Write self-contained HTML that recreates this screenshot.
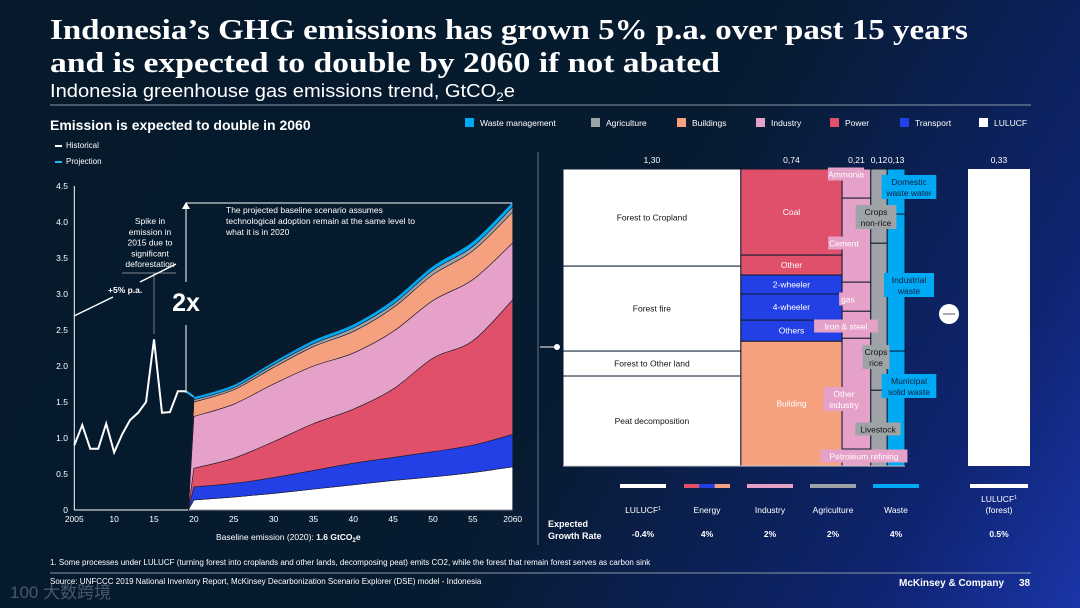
<!DOCTYPE html>
<html><head><meta charset="utf-8">
<style>
html,body{margin:0;padding:0;}
body{width:1080px;height:608px;overflow:hidden;background:linear-gradient(120deg,#061a2b 0%,#071b30 55%,#0f2470 85%,#1a35a8 100%);font-family:"Liberation Sans",sans-serif;}
svg{position:absolute;left:0;top:0;}
text{font-family:"Liberation Sans","Noto Sans CJK SC",sans-serif;}
</style></head>
<body>
<svg id="s" width="1080" height="608" viewBox="0 0 1080 608" xmlns="http://www.w3.org/2000/svg">
<g>
<text x="50" y="39" fill="#fff" font-weight="bold" font-size="29" textLength="918" lengthAdjust="spacingAndGlyphs" style="font-family:'Liberation Serif',serif">Indonesia’s GHG emissions has grown 5% p.a. over past 15 years</text>
<text x="50" y="72" fill="#fff" font-weight="bold" font-size="29" textLength="670" lengthAdjust="spacingAndGlyphs" style="font-family:'Liberation Serif',serif">and is expected to double by 2060 if not abated</text>
<text x="50" y="97" fill="#fff" font-size="18" textLength="465" lengthAdjust="spacingAndGlyphs">Indonesia greenhouse gas emissions trend, GtCO<tspan font-size="12" dy="4">2</tspan><tspan dy="-4">e</tspan></text>
<line x1="50" y1="105" x2="1031" y2="105" stroke="#8a97a8" stroke-width="1"/>
<text x="50" y="130" fill="#fff" font-weight="bold" font-size="14">Emission is expected to double in 2060</text>
</g>
<g id="toplegend"></g>
<g>
<rect x="55" y="145" width="7" height="2" fill="#fff"/><text x="66" y="148" fill="#fff" font-size="8">Historical</text>
<rect x="55" y="161" width="7" height="2" fill="#29b6f6"/><text x="66" y="164" fill="#fff" font-size="8">Projection</text>
</g>
<g id="left"></g>
<line x1="538" y1="152" x2="538" y2="545" stroke="#6a7688" stroke-width="1"/>
<g id="right"></g>
<g>
<text x="50" y="565" fill="#fff" font-size="8">1.   Some processes under LULUCF (turning forest into croplands and other lands, decomposing peat) emits CO2, while the forest that remain forest serves as carbon sink</text>
<line x1="50" y1="573" x2="1031" y2="573" stroke="#8a97a8" stroke-width="1"/>
<text x="50" y="584" fill="#fff" font-size="8">Source: UNFCCC 2019 National Inventory Report, McKinsey Decarbonization Scenario Explorer (DSE) model - Indonesia</text>
<text x="899" y="586" fill="#fff" font-size="10" font-weight="bold">McKinsey &amp; Company</text>
<text x="1019" y="586" fill="#fff" font-size="10" font-weight="bold">38</text>
<text x="10" y="598" fill="#9aa3b0" fill-opacity="0.45" font-size="17">100 大数跨境</text>
</g>
</svg>
<script>
// ---------- data: left chart ----------
const histYears=[2005,2006,2007,2008,2009,2010,2011,2012,2013,2014,2015,2016,2017,2018,2019];
const histValues=[0.9,1.18,0.85,0.85,1.2,0.8,1.05,1.25,1.35,1.5,2.37,1.35,1.36,1.65,1.65];
const projYears=[2020,2025,2030,2035,2040,2045,2050,2055,2060];
const seriesNames=["LULUCF","Transport","Power","Industry","Buildings","Agriculture","Waste management"];
const lulucfVals=[0.14,0.18,0.23,0.29,0.35,0.41,0.46,0.52,0.60];
const transportVals=[0.18,0.19,0.22,0.26,0.30,0.32,0.35,0.38,0.45];
const powerVals=[0.26,0.35,0.50,0.65,0.75,0.95,1.30,1.45,1.87];
const industryVals=[0.72,0.75,0.80,0.80,0.78,0.80,0.80,0.85,0.79];
const buildingsVals=[0.20,0.20,0.23,0.27,0.30,0.33,0.36,0.40,0.43];
const agricultureVals=[0.03,0.03,0.04,0.04,0.05,0.05,0.06,0.06,0.07];
const wasteVals=[0.04,0.04,0.04,0.05,0.05,0.06,0.06,0.07,0.07];
const yTicks=[0,0.5,1.0,1.5,2.0,2.5,3.0,3.5,4.0,4.5];
const yTickLabels=["0","0.5","1.0","1.5","2.0","2.5","3.0","3.5","4.0","4.5"];
const xTicks=[2005,2010,2015,2020,2025,2030,2035,2040,2045,2050,2055,2060];
const xTickLabels=["2005","10","15","20","25","30","35","40","45","50","55","2060"];
// ---------- data: marimekko ----------
const colNames=["LULUCF","Energy","Industry","Agriculture","Waste"];
const colTotals=[1.30,0.74,0.21,0.12,0.13];
const colLabels=["1,30","0,74","0,21","0,12","0,13"];
const lulucfSegs=[0.327,0.286,0.084,0.303];
const lulucfSegNames=["Forest to Cropland","Forest fire","Forest to Other land","Peat decomposition"];
const energySegs=[0.29,0.067,0.064,0.088,0.071,0.42];
const energySegNames=["Coal","Other","2-wheeler","4-wheeler","Others","Building"];
const industrySegs=[0.098,0.283,0.098,0.091,0.373,0.057];
const agriSegs=[0.25,0.495,0.255];
const wasteSegs=[0.152,0.461,0.387];
const forestValue=0.33;
const forestLabel="0,33";
const growthRates=["-0.4%","4%","2%","2%","4%"];
const forestGrowth="0.5%";

const NS="http://www.w3.org/2000/svg";
function mk(tag,attrs,parent,txt){const e=document.createElementNS(NS,tag);for(const k in attrs)e.setAttribute(k,attrs[k]);if(txt!==undefined)e.textContent=txt;parent.appendChild(e);return e;}
const C={waste:"#00a9f4",agri:"#9ea3a8",build:"#f5a07e",ind:"#e6a1c9",power:"#e0506b",trans:"#2340e6",lul:"#ffffff"};

// top legend
const tl=document.getElementById('toplegend');
const legItems=[["Waste management",C.waste,465],["Agriculture",C.agri,591],["Buildings",C.build,677],["Industry",C.ind,756],["Power",C.power,830],["Transport",C.trans,900],["LULUCF",C.lul,979]];
legItems.forEach(it=>{
 const g=mk('g',{},tl);
 
 
 mk('rect',{x:it[2],y:118,width:9,height:9,fill:it[1]},g);
 mk('text',{x:it[2]+15,y:126,fill:'#fff','font-size':8.5},g,it[0]);
});

// ---------- left chart ----------
const L=document.getElementById('left');
const x0=74.3,x1=512.7,yb=510,yt=186;
const xs=y=>x0+(y-2005)*(x1-x0)/55;
const ys=v=>yb-v*(yb-yt)/4.5;
mk('line',{x1:x0,y1:yt,x2:x0,y2:yb,stroke:'#fff','stroke-width':1},L);
mk('line',{x1:x0,y1:yb,x2:x1,y2:yb,stroke:'#fff','stroke-width':1},L);
yTicks.forEach((t,i)=>{const e=mk('text',{x:68,y:ys(t)+3,fill:'#fff','font-size':8.5,'text-anchor':'end'},L,yTickLabels[i]);});
xTicks.forEach((t,i)=>{const e=mk('text',{x:xs(t),y:522,fill:'#fff','font-size':8.5,'text-anchor':'middle'},L,xTickLabels[i]);});
// smooth path through points (Catmull-Rom), continuing existing path
function smoothSeg(pts){
 let d='';
 for(let i=0;i<pts.length-1;i++){
  const p0=pts[Math.max(i-1,0)],p1=pts[i],p2=pts[i+1],p3=pts[Math.min(i+2,pts.length-1)];
  const c1=[p1[0]+(p2[0]-p0[0])/6,p1[1]+(p2[1]-p0[1])/6];
  const c2=[p2[0]-(p3[0]-p1[0])/6,p2[1]-(p3[1]-p1[1])/6];
  d+=' C'+c1[0]+','+c1[1]+' '+c2[0]+','+c2[1]+' '+p2[0]+','+p2[1];
 }
 return d;
}
const stackSeries=[lulucfVals,transportVals,powerVals,industryVals,buildingsVals,agricultureVals,wasteVals];
const stackColors=[C.lul,C.trans,C.power,C.ind,C.build,C.agri,C.waste];
const startYear=2019.3;
let lower=projYears.map(()=>0);
stackSeries.forEach((ser,si)=>{
 const upper=ser.map((v,i)=>lower[i]+v);
 const up=projYears.map((y,i)=>[xs(y),ys(upper[i])]);
 const lo=projYears.map((y,i)=>[xs(y),ys(lower[i])]).reverse();
 let d='M'+xs(startYear)+','+ys(0)+' L'+up[0][0]+','+up[0][1]+smoothSeg(up)+' L'+lo[0][0]+','+lo[0][1]+smoothSeg(lo)+' Z';
 const p=mk('path',{d:d,fill:stackColors[si],stroke:'#1a1a2a','stroke-width':0.6},L);
 
 
 lower=upper;
});
let hd='';histYears.forEach((y,i)=>{hd+=(i?' L':'M')+xs(y)+','+ys(histValues[i]);});
const hl=mk('path',{d:hd,fill:'none',stroke:'#fff','stroke-width':2},L);


const totals=projYears.map((y,i)=>stackSeries.reduce((a,s)=>a+s[i],0));
const pl=mk('path',{d:'M'+xs(2019)+','+ys(histValues[histValues.length-1])+' L'+xs(projYears[0])+','+ys(totals[0]),fill:'none',stroke:'#29b6f6','stroke-width':2},L);


const an=mk('g',{},L);


["Spike in","emission in","2015 due to","significant","deforestation"].forEach((t,i)=>mk('text',{x:150,y:224+i*10.8,fill:'#fff','font-size':8.5,'text-anchor':'middle'},an,t));
mk('line',{x1:122,y1:273,x2:176,y2:273,stroke:'#aaa','stroke-width':0.7},an);
mk('line',{x1:154,y1:273,x2:154,y2:334,stroke:'#aaa','stroke-width':0.7},an);
mk('line',{x1:74,y1:316,x2:113,y2:297,stroke:'#fff','stroke-width':1.5},an);
mk('line',{x1:140,y1:282,x2:176,y2:264,stroke:'#fff','stroke-width':1.5},an);
mk('text',{x:108,y:293,fill:'#fff','font-size':8.5,'font-weight':'bold'},an,'+5% p.a.');
mk('line',{x1:186,y1:393,x2:186,y2:325,stroke:'#fff','stroke-width':1},an);
mk('line',{x1:186,y1:282,x2:186,y2:205,stroke:'#fff','stroke-width':1},an);
mk('path',{d:'M182,209 L186,202 L190,209 Z',fill:'#fff'},an);
mk('line',{x1:186,y1:203,x2:512,y2:203,stroke:'#fff','stroke-width':1},an);
mk('text',{x:186,y:311,fill:'#fff','font-size':25,'font-weight':'bold','text-anchor':'middle'},an,'2x');
["The projected baseline scenario assumes","technological adoption remain at the same level to","what it is in 2020"].forEach((t,i)=>mk('text',{x:226,y:213+i*11,fill:'#fff','font-size':8.5},an,t));
const bl=mk('text',{x:216,y:540,fill:'#fff','font-size':8.5},L);


bl.innerHTML='Baseline emission (2020):  <tspan font-weight="bold">1.6 GtCO<tspan font-size="6" dy="2">2</tspan><tspan dy="-2">e</tspan></tspan>';

// ---------- right marimekko ----------
const R=document.getElementById('right');
const mx0=563,mtop=169,mbot=466,mH=mbot-mtop,pxPerUnit=342/2.50;
const colSegs=[lulucfSegs,energySegs,industrySegs,agriSegs,wasteSegs];
const segColors=[[C.lul,C.lul,C.lul,C.lul],[C.power,C.power,C.trans,C.trans,C.trans,C.build],[C.ind,C.ind,C.ind,C.ind,C.ind,C.ind],[C.agri,C.agri,C.agri],[C.waste,C.waste,C.waste]];
let cx=mx0;
colTotals.forEach((tot,ci)=>{
 const w=tot*pxPerUnit;
 let cy=mtop;
 colSegs[ci].forEach((f,si)=>{
  const h=f*mH;
  const r=mk('rect',{x:cx,y:cy,width:w,height:h,fill:segColors[ci][si],stroke:'#0b1a30','stroke-width':1},R);
  
  
  if(ci===0) mk('text',{x:cx+w/2,y:cy+h/2+3,fill:'#111','font-size':8.5,'text-anchor':'middle'},R,lulucfSegNames[si]);
  if(ci===1) mk('text',{x:cx+w/2,y:cy+h/2+3,fill:'#fff','font-size':8.5,'text-anchor':'middle'},R,energySegNames[si]);
  cy+=h;
 });
 const hl2=mk('text',{x:cx+w/2,y:163,fill:'#fff','font-size':8.5,'text-anchor':'middle'},R,colLabels[ci]);
 
 
 cx+=w;
});
mk('line',{x1:mx0,y1:mbot,x2:cx,y2:mbot,stroke:'#ccc','stroke-width':1},R);
const fr=mk('rect',{x:968,y:mtop,width:62,height:mH,fill:'#fff'},R);


mk('text',{x:999,y:163,fill:'#fff','font-size':8.5,'text-anchor':'middle'},R,forestLabel);
function boxLabel(lines,x,y,bg,fg){
 const g=mk('g',{},R);
 
 
 const w=Math.max(...lines.map(l=>l.length))*4.6+4,h=lines.length*11+2;
 mk('rect',{x:x-w/2,y:y-h/2,width:w,height:h,fill:bg},g);
 lines.forEach((l,i)=>mk('text',{x:x,y:y-h/2+10+i*11,fill:fg,'font-size':8.5,'text-anchor':'middle'},g,l));
}
boxLabel(["Ammonia"],846,174,C.ind,'#fff');
boxLabel(["Domestic","waste water"],909,187,C.waste,'#0b2040');
boxLabel(["Crops","non-rice"],876,217,C.agri,'#111');
boxLabel(["Cement"],844,243,C.ind,'#fff');
boxLabel(["Industrial","waste"],909,285,C.waste,'#0b2040');
boxLabel(["gas"],848,299,C.ind,'#fff');
boxLabel(["Iron  & steel"],846,326,C.ind,'#fff');
boxLabel(["Crops","rice"],876,357,C.agri,'#111');
boxLabel(["Municipal","solid waste"],909,386,C.waste,'#0b2040');
boxLabel(["Other","industry"],844,399,C.ind,'#fff');
boxLabel(["Livestock"],878,429,C.agri,'#111');
boxLabel(["Petroleum refining"],864,456,C.ind,'#fff');
mk('circle',{cx:949,cy:314,r:10,fill:'#fff'},R);
mk('line',{x1:943,y1:314,x2:955,y2:314,stroke:'#555','stroke-width':1},R);
mk('line',{x1:540,y1:347,x2:557,y2:347,stroke:'#fff','stroke-width':1},R);
mk('circle',{cx:557,cy:347,r:3,fill:'#fff'},R);
const bx=[620,684,747,810,873];const bnames=["LULUCF","Energy","Industry","Agriculture","Waste"];
const bcols=[[C.lul],[C.power,C.trans,C.build],[C.ind],[C.agri],[C.waste]];
bx.forEach((x,i)=>{
 const g=mk('g',{},R);
 
 
 const n=bcols[i].length,w=46/n;
 bcols[i].forEach((c,k)=>mk('rect',{x:x+k*w,y:484,width:w,height:4,fill:c},g));
 const t=mk('text',{x:x+23,y:513,fill:'#fff','font-size':8.5,'text-anchor':'middle'},g,bnames[i]);
 if(i===0){mk('tspan',{'font-size':5,dy:-3},t,'1');}
 mk('text',{x:x+23,y:537,fill:'#fff','font-size':8.5,'font-weight':'bold','text-anchor':'middle'},g,growthRates[i]);
});
const fg=mk('g',{},R);


mk('rect',{x:970,y:484,width:58,height:4,fill:'#fff'},fg);
const ft=mk('text',{x:999,y:502,fill:'#fff','font-size':8.5,'text-anchor':'middle'},fg,'LULUCF');
mk('tspan',{'font-size':5,dy:-3},ft,'1');
mk('text',{x:999,y:513,fill:'#fff','font-size':8.5,'text-anchor':'middle'},fg,'(forest)');
mk('text',{x:999,y:537,fill:'#fff','font-size':8.5,'font-weight':'bold','text-anchor':'middle'},fg,forestGrowth);
mk('text',{x:548,y:527,fill:'#fff','font-size':9,'font-weight':'bold'},R,'Expected');
mk('text',{x:548,y:539,fill:'#fff','font-size':9,'font-weight':'bold'},R,'Growth Rate');
</script>
</body></html>
